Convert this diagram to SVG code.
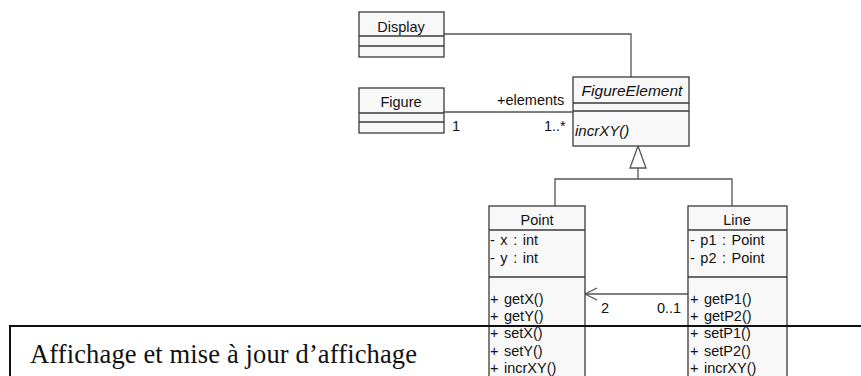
<svg xmlns="http://www.w3.org/2000/svg" width="861" height="376" viewBox="0 0 861 376">
<style>
.box{fill:#f8f8f8;stroke:#3a3a3a;stroke-width:1.3}
.div{stroke:#3a3a3a;stroke-width:1.3;fill:none}
.t{font-family:"Liberation Sans",Arial,sans-serif;font-size:14.5px;fill:#111;word-spacing:1.5px}
.c{text-anchor:middle}
.i{font-style:italic}
.ln{stroke:#555;stroke-width:1.3;fill:none}
</style>
<rect width="861" height="376" fill="#fff"/>
<g id="connectors">
<polyline class="ln" points="444,34 631,34 631,77"/>
<line class="ln" x1="444" y1="112" x2="573" y2="112"/>
<polyline class="ln" points="555,206 555,179 732,179 732,206"/>
<line class="ln" x1="638" y1="179" x2="638" y2="168"/>
<polygon points="638,146 630,168 646,168" fill="#fff" stroke="#555" stroke-width="1.3"/>
<line class="ln" x1="688" y1="294" x2="585" y2="294"/>
<polyline class="ln" points="597,288 585,294 597,300"/>
<text class="t" x="497" y="105">+elements</text>
<text class="t" x="452" y="131">1</text>
<text class="t" x="544" y="131">1..*</text>
<text class="t" x="601" y="313">2</text>
<text class="t" x="657" y="313">0..1</text>
</g>
<g id="display">
<rect class="box" x="359" y="12" width="85" height="45"/>
<path class="div" d="M359,36H444M359,46H444"/>
<text class="t c" x="401" y="32">Display</text>
</g>
<g id="figure">
<rect class="box" x="359" y="88" width="85" height="45"/>
<path class="div" d="M359,113H444M359,122H444"/>
<text class="t c" x="401" y="107">Figure</text>
</g>
<g id="figureelement">
<rect class="box" x="573" y="77" width="116" height="69"/>
<path class="div" d="M573,103H689M573,111H689"/>
<text class="t c i" x="632" y="96" style="font-size:15.5px">FigureElement</text>
<text class="t i" x="575" y="136" style="font-size:15px">incrXY()</text>
</g>
<g id="point">
<rect class="box" x="489" y="206" width="96" height="200"/>
<path class="div" d="M489,230H585M489,277H585"/>
<text class="t c" x="537" y="225">Point</text>
<text class="t" x="490" y="245">- x : int</text>
<text class="t" x="490" y="263">- y : int</text>
<text class="t" x="490" y="304">+ getX()</text>
<text class="t" x="490" y="321">+ getY()</text>
<text class="t" x="490" y="338">+ setX()</text>
<text class="t" x="490" y="356">+ setY()</text>
<text class="t" x="490" y="373">+ incrXY()</text>
</g>
<g id="line">
<rect class="box" x="688" y="206" width="99" height="200"/>
<path class="div" d="M688,230H787M688,277H787"/>
<text class="t c" x="737" y="225">Line</text>
<text class="t" x="690" y="245">- p1 : Point</text>
<text class="t" x="690" y="263">- p2 : Point</text>
<text class="t" x="690" y="304">+ getP1()</text>
<text class="t" x="690" y="321">+ getP2()</text>
<text class="t" x="690" y="338">+ setP1()</text>
<text class="t" x="690" y="356">+ setP2()</text>
<text class="t" x="690" y="373">+ incrXY()</text>
</g>
<g id="caption">
<path d="M10,400V326H870" fill="none" stroke="#111" stroke-width="2"/>
<text x="30" y="363" font-family="'Liberation Serif','Times New Roman',serif" font-size="26.5" fill="#111" textLength="387">Affichage et mise à jour d’affichage</text>
</g>
</svg>
